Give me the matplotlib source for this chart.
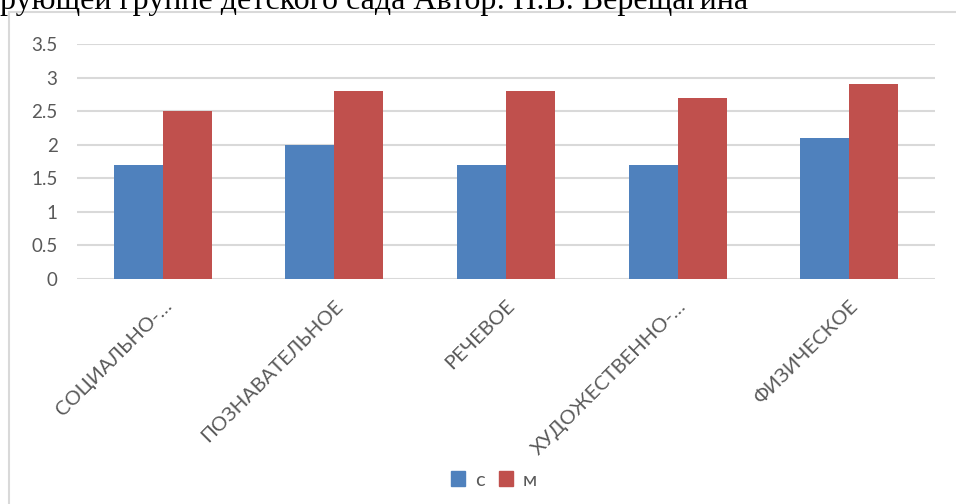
import matplotlib
matplotlib.use("Agg")
import matplotlib.pyplot as plt
from matplotlib.lines import Line2D
from matplotlib.patches import Patch
import numpy as np

# data
categories = ['СОЦИАЛЬНО-…', 'ПОЗНАВАТЕЛЬНОЕ', 'РЕЧЕВОЕ', 'ХУДОЖЕСТВЕННО-…', 'ФИЗИЧЕСКОЕ']
series_c = [1.7, 2.0, 1.7, 1.7, 2.1]
series_m = [2.5, 2.8, 2.8, 2.7, 2.9]
series_names = ['с', 'м']
y_ticks = [0, 0.5, 1, 1.5, 2, 2.5, 3, 3.5]
y_tick_labels = ['0', '0.5', '1', '1.5', '2', '2.5', '3', '3.5']

BLUE = '#4f81bd'
RED = '#c0504d'
GRID = '#d9d9d9'
TEXT = '#595959'
W, H = 956, 504

fig = plt.figure(figsize=(W / 100, H / 100), dpi=100)

# cropped page caption above the chart (cut off at the top, as in the source)
fig.text(0.0, 1 - 9 / H, 'рующей группе детского сада Автор: Н.В. Верещагина',
         family='Liberation Serif', fontsize=23, color='black',
         ha='left', va='baseline')

# chart frame (only top and left edges are visible in the crop)
fig.add_artist(Line2D([9 / W, 9 / W], [0, 1 - 12 / H], transform=fig.transFigure,
                      color=GRID, lw=1.5))
fig.add_artist(Line2D([9 / W, 1], [1 - 12 / H, 1 - 12 / H], transform=fig.transFigure,
                      color=GRID, lw=1.5))

ax = fig.add_axes([77 / W, (H - 279) / H, (935 - 77) / W, (279 - 44) / H])
x = np.arange(len(categories))
bw = 0.286
ax.bar(x - bw / 2, series_c, bw, color=BLUE, label=series_names[0], zorder=3)
ax.bar(x + bw / 2, series_m, bw, color=RED, label=series_names[1], zorder=3)

ax.set_xlim(-0.5, len(categories) - 0.5)
ax.set_ylim(0, 3.5)
ax.set_yticks(y_ticks)
ax.set_yticklabels(y_tick_labels, family='Lato', fontsize=13.5, color=TEXT)
ax.grid(axis='y', color=GRID, lw=1.5, zorder=0)
ax.set_axisbelow(True)
for s in ax.spines.values():
    s.set_visible(False)
ax.tick_params(axis='y', length=0, pad=14)
ax.tick_params(axis='x', length=0, pad=13)

ax.set_xticks(x)
ax.set_xticklabels(categories, family='Lato', fontsize=14.5, color=TEXT,
                   rotation=45, ha='right', rotation_mode='anchor')

handles = [Patch(color=BLUE), Patch(color=RED)]
fig.legend(handles, series_names, loc='center', bbox_to_anchor=(494 / W, 1 - 480 / H),
           ncol=2, frameon=False, prop={'family': 'Lato', 'size': 14.5},
           labelcolor=TEXT, handlelength=0.7, handleheight=0.7,
           handletextpad=0.5, columnspacing=0.7)

fig.savefig('out.png', dpi=100)
